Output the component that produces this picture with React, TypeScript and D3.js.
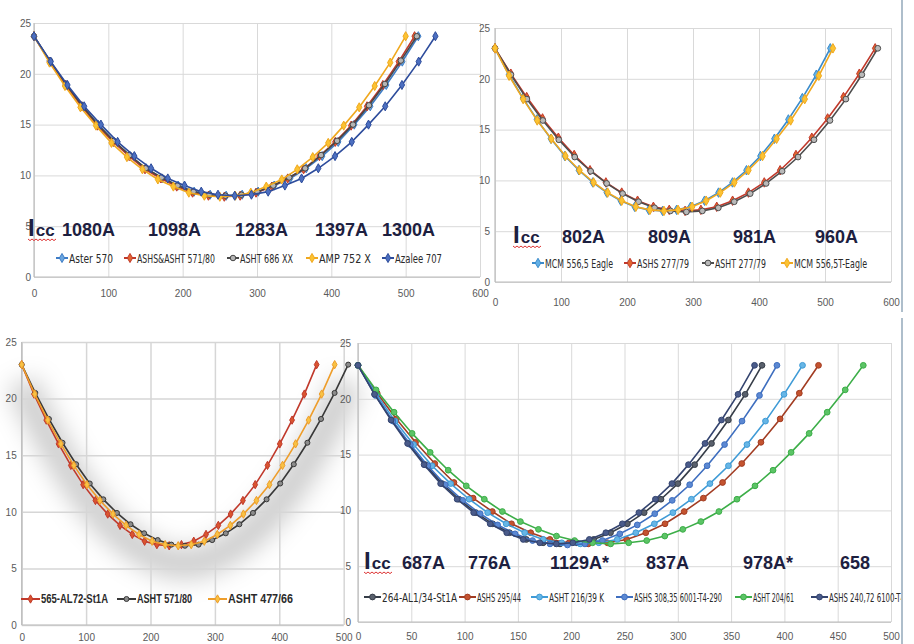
import React, { useEffect, useRef } from "react";
import * as d3 from "d3";

// shared y axis ticks (m)
const yTicks = [0, 5, 10, 15, 20, 25];

// ---- panel 1 (top left)
const p1Names = ["Aster 570", "ASHS&ASHT 571/80", "ASHT 686 XX", "AMP 752 X", "Azalee 707"];
const p1Spans = [517, 512, 515, 500, 540];
const p1Y = [
  [23.7, 21.2, 18.9, 16.8, 15.0, 13.3, 11.9, 10.7, 9.7, 9.0, 8.4, 8.1, 8.0, 8.1, 8.4, 9.0, 9.7, 10.7, 11.9, 13.3, 15.0, 16.8, 18.9, 21.2, 23.7],
  [23.7, 21.2, 18.9, 16.8, 14.9, 13.3, 11.9, 10.6, 9.7, 8.9, 8.3, 8.0, 7.9, 8.0, 8.3, 8.9, 9.7, 10.6, 11.9, 13.3, 14.9, 16.8, 18.9, 21.2, 23.7],
  [23.7, 21.3, 19.0, 16.9, 15.0, 13.4, 12.0, 10.7, 9.8, 9.0, 8.4, 8.1, 8.0, 8.1, 8.4, 9.0, 9.8, 10.7, 12.0, 13.4, 15.0, 16.9, 19.0, 21.3, 23.7],
  [23.7, 21.1, 18.8, 16.7, 14.9, 13.2, 11.8, 10.6, 9.6, 8.9, 8.3, 8.0, 7.9, 8.0, 8.3, 8.9, 9.6, 10.6, 11.8, 13.2, 14.9, 16.7, 18.8, 21.1, 23.7],
  [23.7, 21.2, 18.9, 16.8, 15.0, 13.3, 11.9, 10.7, 9.7, 9.0, 8.4, 8.1, 8.0, 8.1, 8.4, 9.0, 9.7, 10.7, 11.9, 13.3, 15.0, 16.8, 18.9, 21.2, 23.7],
];
const p1Icc = ["1080A", "1098A", "1283A", "1397A", "1300A"];
const p1XTicks = [0, 100, 200, 300, 400, 500, 600];

// ---- panel 2 (top right)
const p2Names = ["MCM 556,5 Eagle", "ASHS 277/79", "ASHT 277/79", "MCM 556,5T-Eagle"];
const p2Spans = [508, 576, 580, 512];
const p2Y = [
  [23.0, 20.4, 18.1, 16.0, 14.1, 12.4, 11.0, 9.8, 8.8, 8.0, 7.4, 7.1, 7.0, 7.1, 7.4, 8.0, 8.8, 9.8, 11.0, 12.4, 14.1, 16.0, 18.1, 20.4, 23.0],
  [23.0, 20.5, 18.2, 16.1, 14.2, 12.5, 11.0, 9.8, 8.8, 8.0, 7.4, 7.1, 7.0, 7.1, 7.4, 8.0, 8.8, 9.8, 11.0, 12.5, 14.2, 16.1, 18.2, 20.5, 23.0],
  [23.0, 20.4, 18.0, 15.9, 14.0, 12.3, 10.9, 9.7, 8.7, 7.9, 7.3, 7.0, 6.9, 7.0, 7.3, 7.9, 8.7, 9.7, 10.9, 12.3, 14.0, 15.9, 18.0, 20.4, 23.0],
  [23.0, 20.3, 18.0, 15.9, 14.1, 12.4, 11.0, 9.8, 8.8, 8.0, 7.4, 7.1, 7.0, 7.1, 7.4, 8.0, 8.8, 9.8, 11.0, 12.4, 14.1, 15.9, 18.0, 20.3, 23.0],
];
const p2Icc = ["802A", "809A", "981A", "960A"];
const p2XTicks = [0, 100, 200, 300, 400, 500, 600];

// ---- panel 3 (bottom left)
const p3Names = ["565-AL72-St1A", "ASHT 571/80", "ASHT 477/66"];
const p3Spans = [458, 507, 486];
const p3Y = [
  [23.0, 20.4, 18.1, 16.0, 14.1, 12.4, 11.0, 9.8, 8.8, 8.0, 7.4, 7.1, 7.0, 7.1, 7.4, 8.0, 8.8, 9.8, 11.0, 12.4, 14.1, 16.0, 18.1, 20.4, 23.0],
  [23.0, 20.5, 18.2, 16.1, 14.2, 12.5, 11.1, 9.9, 8.9, 8.1, 7.5, 7.1, 7.0, 7.1, 7.5, 8.1, 8.9, 9.9, 11.1, 12.5, 14.2, 16.1, 18.2, 20.5, 23.0],
  [23.0, 20.4, 18.1, 16.0, 14.1, 12.4, 11.0, 9.8, 8.8, 8.0, 7.4, 7.1, 7.0, 7.1, 7.4, 8.0, 8.8, 9.8, 11.0, 12.4, 14.1, 16.0, 18.1, 20.4, 23.0],
];
const p3XTicks = [0, 100, 200, 300, 400, 500];

// ---- panel 4 (bottom right)
const p4Names = ["264-AL1/34-St1A", "ASHS 295/44", "ASHT 216/39 K", "ASHS 308,35 6001-T4-290", "ASHT 204/61", "ASHS 240,72 6100-T4"];
const p4Spans = [379, 432, 417, 393, 474, 372];
const p4Y = [
  [23.0, 20.4, 18.1, 16.0, 14.1, 12.4, 11.0, 9.8, 8.8, 8.0, 7.4, 7.1, 7.0, 7.1, 7.4, 8.0, 8.8, 9.8, 11.0, 12.4, 14.1, 16.0, 18.1, 20.4, 23.0],
  [23.0, 20.5, 18.2, 16.1, 14.2, 12.5, 11.1, 9.9, 8.8, 8.0, 7.4, 7.1, 7.0, 7.1, 7.4, 8.0, 8.8, 9.9, 11.1, 12.5, 14.2, 16.1, 18.2, 20.5, 23.0],
  [23.0, 20.4, 18.0, 15.9, 14.0, 12.4, 11.0, 9.8, 8.8, 8.0, 7.4, 7.1, 7.0, 7.1, 7.4, 8.0, 8.8, 9.8, 11.0, 12.4, 14.0, 15.9, 18.0, 20.4, 23.0],
  [23.0, 20.3, 18.0, 15.9, 14.0, 12.3, 10.9, 9.7, 8.7, 7.9, 7.3, 7.0, 6.9, 7.0, 7.3, 7.9, 8.7, 9.7, 10.9, 12.3, 14.0, 15.9, 18.0, 20.3, 23.0],
  [23.0, 20.8, 18.8, 16.9, 15.2, 13.6, 12.2, 11.0, 9.9, 9.0, 8.3, 7.7, 7.3, 7.1, 7.0, 7.1, 7.3, 7.7, 8.3, 9.0, 9.9, 11.0, 12.2, 13.6, 15.2, 16.9, 18.8, 20.8, 23.0],
  [23.0, 20.4, 18.1, 16.0, 14.1, 12.4, 11.0, 9.8, 8.8, 8.0, 7.4, 7.1, 7.0, 7.1, 7.4, 8.0, 8.8, 9.8, 11.0, 12.4, 14.1, 16.0, 18.1, 20.4, 23.0],
];
const p4Icc = ["687A", "776A", "1129A*", "837A", "978A*", "658"];
const p4XTicks = [0, 50, 100, 150, 200, 250, 300, 350, 400, 450, 500];

const NARROW = "'Liberation Sans Narrow', 'Arial Narrow', 'Liberation Sans', Arial, sans-serif";
const CONDENSED = "'DejaVu Sans Condensed', 'Liberation Sans Narrow', 'Liberation Sans', sans-serif";
const BOLD = "'Liberation Sans', Arial, sans-serif";

const panels = [
  {
    names: p1Names, spans: p1Spans, ys: p1Y, icc: p1Icc, xTicks: p1XTicks, xMax: 600,
    left: 34, right: 480, top: 23, bottom: 277, xPad: 13, yPad: 3,
    colors: ["#3d7cc6", "#c0392b", "#474747", "#f0a81e", "#2d4c9c"],
    fills: ["#6aa6df", "#e2652f", "#b5b5b5", "#fcc332", "#4c6fc0"],
    shapes: ["d", "d", "c", "d", "d"],
    iccPos: [28, 236], iccX: [62, 148, 235, 315, 382],
    legY: 258, legX: [56, 124, 227, 306, 382], legW: [44, 78, 53, 52, 47], legLine: 12, legFs: 13,
    grid: "#d9d9d9", gridW: 1, mk: 24,
  },
  {
    names: p2Names, spans: p2Spans, ys: p2Y, icc: p2Icc, xTicks: p2XTicks, xMax: 600,
    left: 495, right: 891, top: 28, bottom: 282, xPad: 17, yPad: 5,
    colors: ["#3a8bcb", "#c0392b", "#4d4d4d", "#f0a81e"],
    fills: ["#62b0e6", "#e2652f", "#b9b9b9", "#fcc332"],
    shapes: ["d", "d", "c", "d"],
    iccPos: [513, 243], iccX: [562, 648, 733, 815],
    legY: 263, legX: [532, 624, 702, 781], legW: [68, 52, 51, 73], legLine: 12, legFs: 13,
    grid: "#d9d9d9", gridW: 1, mk: 26,
  },
  {
    names: p3Names, spans: p3Spans, ys: p3Y, icc: [] as string[], xTicks: p3XTicks, xMax: 500,
    left: 21.7, right: 343.7, top: 342, bottom: 625, xPad: 9, yPad: 5,
    colors: ["#c0392b", "#383838", "#ee9d2a"],
    fills: ["#d9542f", "#8c8c8c", "#f8c244"],
    shapes: ["d", "c", "d"],
    iccPos: null as null | number[], iccX: [] as number[],
    legY: 599, legX: [21, 117, 208], legW: [67, 55, 65], legLine: 19, legFs: 12,
    grid: "#d6d6d6", gridW: 1.5, shadow: 1, mk: 20,
  },
  {
    names: p4Names, spans: p4Spans, ys: p4Y, icc: p4Icc, xTicks: p4XTicks, xMax: 500,
    left: 358, right: 891, top: 343, bottom: 622, xPad: 11, yPad: 7,
    colors: ["#363d48", "#a23c22", "#3f9bd6", "#3e6ebf", "#3cae48", "#34446f"],
    fills: ["#59606c", "#c4532f", "#67b6e6", "#5b88d2", "#5cc466", "#4a5b8a"],
    shapes: ["c", "c", "c", "c", "c", "c"],
    iccPos: [364, 569], iccX: [402, 468, 550, 646, 743, 840],
    legY: 597, legX: [364, 459, 531, 616, 735, 811], legW: [75, 44, 55, 88, 41, 76], legLine: 17, legFs: 12.5,
    grid: "#d9d9d9", gridW: 1, clipRight: 901, mk: 26,
  },
];

function drawPanel(svg: any, p: any, idx: number) {
  const x = d3.scaleLinear().domain([0, p.xMax]).range([p.left, p.right]);
  const y = d3.scaleLinear().domain([0, 25]).range([p.bottom, p.top]);
  const g = svg.append("g");

  if (p.clipRight) {
    svg.select("defs").append("clipPath").attr("id", "clip" + idx)
      .append("rect").attr("x", 0).attr("y", 0).attr("width", p.clipRight).attr("height", 644);
    g.attr("clip-path", `url(#clip${idx})`);
  }

  const line = d3.line<number[]>().x((d) => x(d[0])).y((d) => y(d[1]));
  const seriesPts = p.ys.map((ys: number[], si: number) =>
    ys.map((v, i) => [(i * p.spans[si]) / (ys.length - 1), v])
  );

  // soft drop shadow under the curves (bottom-left chart)
  if (p.shadow) {
    g.append("path")
      .attr("d", line(seriesPts[1]))
      .attr("fill", "none")
      .attr("stroke", "#000")
      .attr("stroke-opacity", 0.2)
      .attr("stroke-width", 30)
      .attr("transform", "translate(0,18)")
      .attr("filter", "url(#blur)");
  }

  // gridlines + tick labels
  const gx = g.append("g")
    .attr("transform", `translate(0,${p.bottom})`)
    .call(d3.axisBottom(x).tickValues(p.xTicks).tickSize(-(p.bottom - p.top)).tickPadding(p.xPad).tickFormat(d3.format("d")));
  gx.select(".domain").remove();
  gx.selectAll("line").attr("stroke", p.grid).attr("stroke-width", p.gridW);

  const gy = g.append("g")
    .attr("transform", `translate(${p.left},0)`)
    .call(d3.axisLeft(y).tickValues(yTicks).tickSize(-(p.right - p.left)).tickPadding(p.yPad));
  gy.select(".domain").remove();
  gy.selectAll("line").attr("stroke", p.grid).attr("stroke-width", p.gridW);

  [gx, gy].forEach((a) =>
    a.attr("font-family", NARROW).attr("font-size", 10).selectAll("text").attr("fill", "#5a5a5a")
  );

  // axis lines
  g.append("line").attr("x1", p.left).attr("x2", p.right).attr("y1", p.bottom).attr("y2", p.bottom)
    .attr("stroke", "#bcbcbc").attr("stroke-width", 1.2);
  g.append("line").attr("x1", p.left).attr("x2", p.left).attr("y1", p.top).attr("y2", p.bottom)
    .attr("stroke", "#bcbcbc").attr("stroke-width", 1.2);

  const symFor = (i: number) =>
    d3.symbol().type(p.shapes[i] === "c" ? d3.symbolCircle : d3.symbolDiamond).size(p.mk);

  // series
  seriesPts.forEach((pts: number[][], si: number) => {
    g.append("path")
      .attr("d", line(pts))
      .attr("fill", "none")
      .attr("stroke", p.colors[si])
      .attr("stroke-width", 1.6);
    g.append("g").selectAll("path").data(pts).join("path")
      .attr("transform", (d: number[]) => `translate(${x(d[0])},${y(d[1])})`)
      .attr("d", symFor(si))
      .attr("fill", p.fills[si])
      .attr("stroke", p.colors[si])
      .attr("stroke-width", 1);
  });

  // Icc annotation
  if (p.iccPos) {
    const [ix, iy] = p.iccPos;
    const t = g.append("text").attr("x", ix).attr("y", iy).attr("font-family", BOLD)
      .attr("font-weight", "bold").attr("fill", "#1d2040");
    t.append("tspan").attr("font-size", 24).text("I");
    t.append("tspan").attr("font-size", 17).attr("dx", 1).text("cc");
    const sq: [number, number][] = [];
    for (let k = 0; k <= 14; k++) sq.push([ix + k * 2, iy + 3 + (k % 2 ? 1.6 : 0)]);
    g.append("path").attr("d", d3.line()(sq)).attr("fill", "none").attr("stroke", "#d33").attr("stroke-width", 1);
    p.icc.forEach((s: string, i: number) => {
      g.append("text").attr("x", p.iccX[i]).attr("y", iy).attr("font-family", BOLD)
        .attr("font-weight", "bold").attr("font-size", 18).attr("fill", "#1d2040").text(s);
    });
  }

  // legend
  p.names.forEach((name: string, i: number) => {
    const lx = p.legX[i];
    const lg = g.append("g");
    lg.append("line").attr("x1", lx).attr("x2", lx + p.legLine).attr("y1", p.legY).attr("y2", p.legY)
      .attr("stroke", p.colors[i]).attr("stroke-width", 2);
    lg.append("path").attr("transform", `translate(${lx + p.legLine / 2},${p.legY})`).attr("d", symFor(i))
      .attr("fill", p.fills[i]).attr("stroke", p.colors[i]);
    lg.append("text").attr("x", lx + p.legLine + 1).attr("y", p.legY + p.legFs * 0.37)
      .attr("font-family", idx === 2 ? BOLD : CONDENSED).attr("font-size", p.legFs)
      .attr("font-weight", idx === 2 ? 600 : 400)
      .attr("fill", "#2a2a2a")
      .attr("textLength", p.legW[i]).attr("lengthAdjust", "spacingAndGlyphs")
      .text(name);
  });
}

export default function App() {
  const ref = useRef<SVGSVGElement>(null);

  useEffect(() => {
    const svg = d3.select(ref.current);
    svg.selectAll("*").remove();
    const defs = svg.append("defs");
    defs.append("filter").attr("id", "blur").attr("x", "-30%").attr("y", "-30%").attr("width", "160%").attr("height", "160%")
      .append("feGaussianBlur").attr("stdDeviation", 12);

    svg.append("rect").attr("width", 914).attr("height", 644).attr("fill", "#fff");
    panels.forEach((p, i) => drawPanel(svg, p, i));

    // frame lines on the right edge
    svg.append("line").attr("x1", 902).attr("x2", 902).attr("y1", 0).attr("y2", 312).attr("stroke", "#93a8ba").attr("stroke-width", 1.5);
    svg.append("line").attr("x1", 902).attr("x2", 902).attr("y1", 318).attr("y2", 644).attr("stroke", "#93a8ba").attr("stroke-width", 1.5);
  });

  return (
    <svg
      ref={ref}
      width={914}
      height={644}
      style={{ position: "absolute", left: 0, top: 0, background: "#fff" }}
    />
  );
}
